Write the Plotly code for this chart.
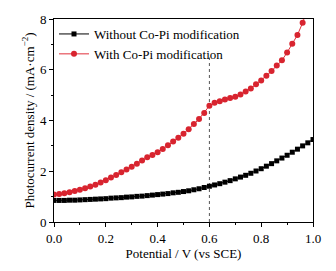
import plotly.graph_objects as go

potential = [round(i * 0.02, 2) for i in range(51)]
without_copi = [0.85, 0.85, 0.85, 0.86, 0.86, 0.87, 0.88, 0.89, 0.90, 0.91,
                0.92, 0.94, 0.95, 0.96, 0.98, 0.99, 1.01, 1.02, 1.04, 1.06,
                1.08, 1.10, 1.12, 1.15, 1.17, 1.20, 1.23, 1.27, 1.31, 1.36,
                1.41, 1.46, 1.51, 1.57, 1.63, 1.70, 1.77, 1.84, 1.92, 2.01,
                2.10, 2.20, 2.30, 2.41, 2.52, 2.63, 2.75, 2.87, 3.00, 3.12, 3.25]
with_copi = [1.08, 1.10, 1.13, 1.17, 1.22, 1.27, 1.33, 1.40, 1.47, 1.56,
             1.65, 1.75, 1.85, 1.96, 2.07, 2.18, 2.30, 2.42, 2.55, 2.64,
             2.75, 2.88, 3.02, 3.17, 3.32, 3.48, 3.66, 3.86, 4.06, 4.30,
             4.58, 4.70, 4.76, 4.83, 4.89, 4.94, 5.02, 5.14, 5.26, 5.43,
             5.58, 5.76, 5.95, 6.17, 6.37, 6.68, 7.02, 7.37, 7.85, 8.45]
with_x = potential[:len(with_copi)]

FONT = "Liberation Serif, Times New Roman, serif"

fig = go.Figure()
fig.add_trace(go.Scatter(
    x=[0.6, 0.6], y=[0, 6.48], mode="lines",
    line=dict(color="#555555", width=1, dash="dot"), showlegend=False, hoverinfo="skip"))
fig.add_trace(go.Scatter(
    x=potential, y=without_copi, mode="lines+markers", name="Without Co-Pi modification",
    line=dict(color="black", width=1),
    marker=dict(symbol="square", size=5, color="black")))
fig.add_trace(go.Scatter(
    x=with_x, y=with_copi, mode="lines+markers", name="With Co-Pi modification",
    line=dict(color="#e0303a", width=1),
    marker=dict(symbol="circle", size=6, color="#d8242f")))

axis_common = dict(
    showline=True, linecolor="black", linewidth=1, mirror=True,
    ticks="outside", ticklen=4, tickcolor="black", showgrid=False, zeroline=False,
    tickfont=dict(family=FONT, size=13, color="black"),
)
fig.update_xaxes(range=[0, 1.0], dtick=0.2, tickformat=".1f",
                 minor=dict(ticks="outside", ticklen=2, dtick=0.1, tickcolor="black"),
                 title=dict(text="Potential / V (vs SCE)", font=dict(family=FONT, size=13, color="black"), standoff=4),
                 **axis_common)
fig.update_yaxes(range=[0, 8], dtick=2,
                 minor=dict(ticks="outside", ticklen=2, dtick=1, tickcolor="black"),
                 title=dict(text="Photocurrent density / (mA·cm<sup>−2</sup>)", font=dict(family=FONT, size=13, color="black"), standoff=2),
                 **axis_common)
fig.update_layout(
    width=336, height=271,
    margin=dict(l=54, r=23, t=17, b=42),
    paper_bgcolor="white", plot_bgcolor="white",
    showlegend=True,
    legend=dict(x=0.0, y=1.0, xanchor="left", yanchor="top", bgcolor="rgba(0,0,0,0)",
                font=dict(family=FONT, size=13, color="black"), tracegroupgap=0, itemwidth=30),
)
fig.write_html("out.html", config={"displayModeBar": False},
               post_script="document.body.style.margin='0';")
